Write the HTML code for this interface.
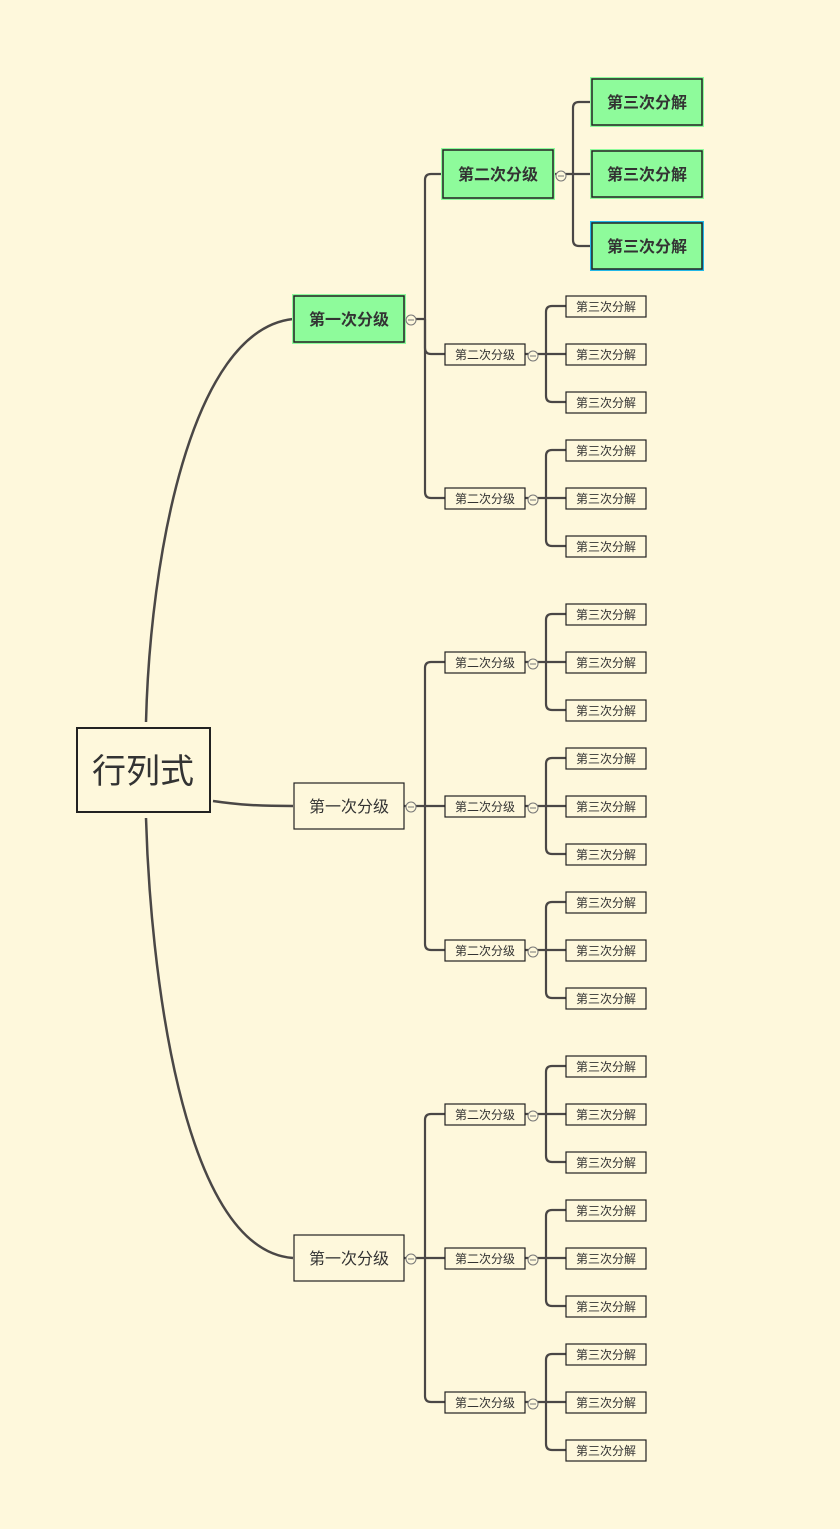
<!DOCTYPE html>
<html><head><meta charset="utf-8"><style>
html,body{margin:0;padding:0;background:#fef8dc;}
svg{display:block;font-family:"Liberation Sans","Noto Sans CJK SC",sans-serif;}
</style></head><body>
<svg id="s" width="840" height="1529" viewBox="0 0 840 1529" xmlns="http://www.w3.org/2000/svg">
<rect width="840" height="1529" fill="#fef8dc"/>
<g fill="none" stroke="#4a4746" stroke-width="2.5">
<path d="M146,722 C150,560 190,330 293,319"/>
<path d="M213,801 C240,805 260,806 293,806"/>
<path d="M146,818 C150,960 180,1250 293,1258"/>
</g>
<rect x="77" y="728" width="133" height="84" fill="#fef8dc" stroke="#222" stroke-width="2"/>
<text x="143" y="783" font-size="34" text-anchor="middle" fill="#333">行列式</text>
<g id="g"></g>
</svg>
<script>
var g=document.getElementById('g'),NS='http://www.w3.org/2000/svg';
function el(t,a,txt){var e=document.createElementNS(NS,t);for(var k in a)e.setAttribute(k,a[k]);if(txt)e.textContent=txt;g.appendChild(e);return e;}
function node(x,y,w,h,txt,fs,green,bold,blue){
 if(green)el('rect',{x:x-2,y:y-2,width:w+4,height:h+4,fill:blue?'#22b8e8':'#8efb9b'});
 el('rect',{x:x,y:y,width:w,height:h,fill:green?'#8efb9b':'#fef8dc',stroke:'#222','stroke-width':green?1.5:1.2});
 el('text',{x:x+w/2,y:y+h/2+fs*0.36,'font-size':fs,'text-anchor':'middle',fill:'#333','font-weight':bold?'bold':'normal'},txt);
}
function minus(x,y){el('circle',{cx:x,cy:y,r:5,fill:'#fef8dc',stroke:'#777','stroke-width':1});el('line',{x1:x-3,y1:y,x2:x+3,y2:y,stroke:'#777','stroke-width':1});}
function bracket(px,py,tx,ys,cx){
 var p='M'+px+','+py+' L'+tx+','+py;
 el('path',{d:p,fill:'none',stroke:'#4a4746','stroke-width':2.2});
 ys.forEach(function(y){var r=6,d;
  if(Math.abs(y-py)<1)d='M'+tx+','+y+' L'+cx+','+y;
  else{var s=y<py?1:-1;d='M'+tx+','+py+' L'+tx+','+(y+s*r)+' Q'+tx+','+y+' '+(tx+r)+','+y+' L'+cx+','+y;}
  el('path',{d:d,fill:'none',stroke:'#4a4746','stroke-width':2.2});});
}
var L1=[319,806,1258];
L1.forEach(function(y1,i){
 var ys=[y1-145,y1+35,y1+179]; if(i>0)ys=[y1-144,y1,y1+144];
 if(i==0)ys=[174,354,498];
 bracket(404,y1,425,ys,445);
 node(294,y1-23,110,46,'第一次分级',16,i==0,i==0);
 minus(411,y1+1);
 ys.forEach(function(y2,j){
  if(i==0&&j==0){
   bracket(553,y2,573,[102,174,246],592);
   node(443,y2-24,110,48,'第二次分级',16,true,true);
   minus(561,y2+2);
   [102,174,246].forEach(function(y3,k){node(592,y3-23,110,46,'第三次分解',16,true,true,k==2);});
  }else{
   var c=[y2-48,y2,y2+48];
   bracket(525,y2,546,c,566);
   node(445,y2-10,80,21,'第二次分级',12,false,false);
   minus(533,y2+2);
   c.forEach(function(y3){node(566,y3-10,80,21,'第三次分解',12,false,false);});
  }
 });
});
</script>
</body></html>
